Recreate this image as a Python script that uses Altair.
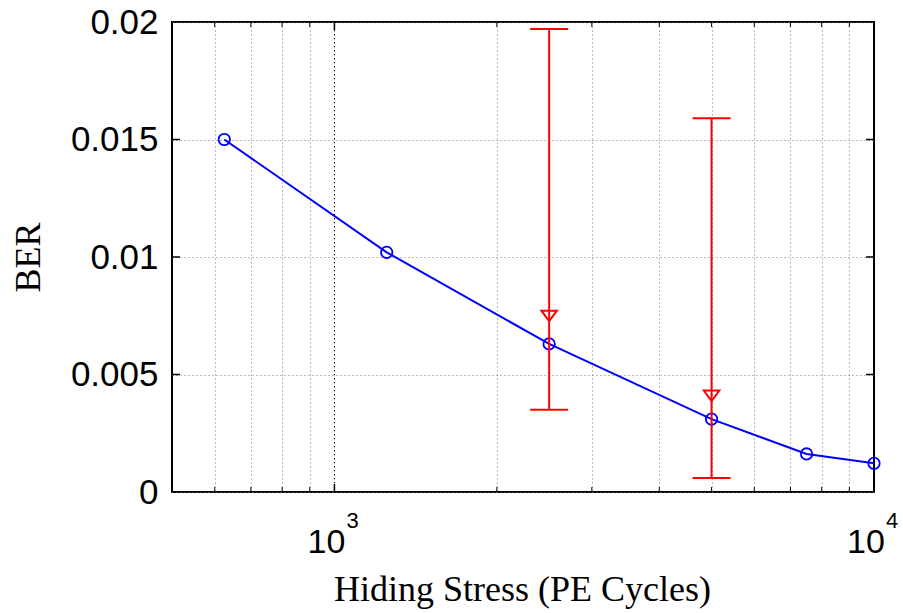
import altair as alt
import pandas as pd

# data
pe_cycles = [625, 1250, 2500, 5000, 7500, 10000]
ber = [0.0150, 0.0102, 0.0063, 0.0031, 0.00162, 0.00122]

err_x = [2500, 5000]
err_mean = [0.0075, 0.0041]
err_lo = [0.0035, 0.0006]
err_hi = [0.0197, 0.0159]

x_grid = [600, 700, 800, 900, 1000, 2000, 3000, 4000, 5000, 6000, 7000, 8000, 9000]
x_major = [1000, 10000]
x_major_exp = ["3", "4"]
y_ticks = [0, 0.005, 0.01, 0.015, 0.02]

W, H = 702, 470

line_df = pd.DataFrame({"x": pe_cycles, "ber": ber})
err_df = pd.DataFrame({"x": err_x, "mean": err_mean, "lo": err_lo, "hi": err_hi})
xt_df = pd.DataFrame({"x": x_grid + [10000], "major": [v in x_major for v in x_grid + [10000]]})
yt_df = pd.DataFrame({"y": y_ticks[1:-1]})
lab_df = pd.DataFrame({"x": x_major, "exp": x_major_exp})

xscale = alt.Scale(type="log", domain=[500, 10000], nice=False)
yscale = alt.Scale(domain=[0, 0.02], nice=False)

xax = alt.Axis(values=x_grid, grid=True, gridDash=[1, 3], gridColor="#777777", gridWidth=1,
               labels=False, ticks=False, domain=False,
               title="Hiding Stress (PE Cycles)", titleFont="Liberation Serif",
               titleFontSize=36, titleFontWeight="normal", titleColor="black",
               titleX=W / 2 - 1, titleY=108, titleBaseline="alphabetic", titleAnchor="middle")
yax = alt.Axis(values=y_ticks, grid=True, gridDash=[1, 3], gridColor="#777777", gridWidth=1,
               labelExpr="format(datum.value, '.3~f')", labelFont="Liberation Sans",
               labelFontSize=35, labelColor="black", labelPadding=14,
               ticks=False, domain=False,
               title="BER", titleFont="Liberation Serif", titleFontSize=36,
               titleFontWeight="normal", titleColor="black",
               titleX=-144, titleY=H / 2, titleAngle=-90, titleBaseline="middle",
               titleAnchor="middle")

base_x = alt.X("x:Q", scale=xscale, axis=xax)

axes_layer = alt.Chart(line_df).mark_point(opacity=0).encode(
    x=base_x, y=alt.Y("ber:Q", scale=yscale, axis=yax)
)

# inward ticks (x, top and bottom)
xt = alt.Chart(xt_df)
xtick_b_minor = xt.transform_filter("!datum.major").mark_rule(color="black", strokeWidth=1).encode(
    x=alt.X("x:Q", scale=xscale), y=alt.value(H), y2=alt.value(H - 5))
xtick_t_minor = xt.transform_filter("!datum.major").mark_rule(color="black", strokeWidth=1).encode(
    x=alt.X("x:Q", scale=xscale), y=alt.value(0), y2=alt.value(5))
xtick_b_major = xt.transform_filter("datum.major").mark_rule(color="black", strokeWidth=1.5).encode(
    x=alt.X("x:Q", scale=xscale), y=alt.value(H), y2=alt.value(H - 8))
xtick_t_major = xt.transform_filter("datum.major").mark_rule(color="black", strokeWidth=1.5).encode(
    x=alt.X("x:Q", scale=xscale), y=alt.value(0), y2=alt.value(8))
major_grid = xt.transform_filter("datum.x == 1000").mark_rule(color="black", strokeWidth=1, strokeDash=[1, 3]).encode(
    x=alt.X("x:Q", scale=xscale), y=alt.value(0), y2=alt.value(H))

yt = alt.Chart(yt_df)
ytick_l = yt.mark_rule(color="black", strokeWidth=1.5).encode(
    y=alt.Y("y:Q", scale=yscale), x=alt.value(0), x2=alt.value(8))
ytick_r = yt.mark_rule(color="black", strokeWidth=1.5).encode(
    y=alt.Y("y:Q", scale=yscale), x=alt.value(W), x2=alt.value(W - 8))

# x tick labels as 10^n
lab = alt.Chart(lab_df)
lab_base = lab.mark_text(text="10", font="Liberation Sans", fontSize=34, color="black",
                         align="center", baseline="alphabetic", dx=-8).encode(
    x=alt.X("x:Q", scale=xscale), y=alt.value(531))
lab_exp = lab.mark_text(font="Liberation Sans", fontSize=22, color="black",
                        align="left", baseline="alphabetic", dx=12).encode(
    x=alt.X("x:Q", scale=xscale), y=alt.value(506), text="exp:N")

# data
line = alt.Chart(line_df).mark_line(color="#0000FF", strokeWidth=2).encode(
    x=alt.X("x:Q", scale=xscale), y=alt.Y("ber:Q", scale=yscale))
pts = alt.Chart(line_df).mark_point(shape="circle", filled=False, color="#0000FF",
                                    size=130, strokeWidth=1.8, opacity=1).encode(
    x=alt.X("x:Q", scale=xscale), y=alt.Y("ber:Q", scale=yscale))

eb = alt.Chart(err_df)
err_rule = eb.mark_rule(color="#FF0000", strokeWidth=2).encode(
    x=alt.X("x:Q", scale=xscale), y=alt.Y("lo:Q", scale=yscale), y2="hi:Q")
cap_lo = eb.mark_rule(color="#FF0000", strokeWidth=2, xOffset=-19, x2Offset=19).encode(
    x=alt.X("x:Q", scale=xscale), x2="x:Q", y=alt.Y("lo:Q", scale=yscale))
cap_hi = eb.mark_rule(color="#FF0000", strokeWidth=2, xOffset=-19, x2Offset=19).encode(
    x=alt.X("x:Q", scale=xscale), x2="x:Q", y=alt.Y("hi:Q", scale=yscale))
tri = eb.mark_point(shape="M -1 -0.65 L 1 -0.65 L 0 0.7 Z", filled=False, color="#FF0000",
                    size=240, strokeWidth=2, opacity=1).encode(
    x=alt.X("x:Q", scale=xscale), y=alt.Y("mean:Q", scale=yscale))

chart = alt.layer(
    axes_layer, major_grid,
    xtick_b_minor, xtick_t_minor, xtick_b_major, xtick_t_major, ytick_l, ytick_r,
    line, pts, err_rule, cap_lo, cap_hi, tri, lab_base, lab_exp
).properties(
    width=W, height=H,
    autosize=alt.AutoSizeParams(type="none"),
    padding={"left": 172, "top": 22, "right": 29, "bottom": 121},
    background="white",
).configure_view(stroke="black", strokeWidth=2)

chart.save("out.html", embed_options={"renderer": "svg", "actions": False})
